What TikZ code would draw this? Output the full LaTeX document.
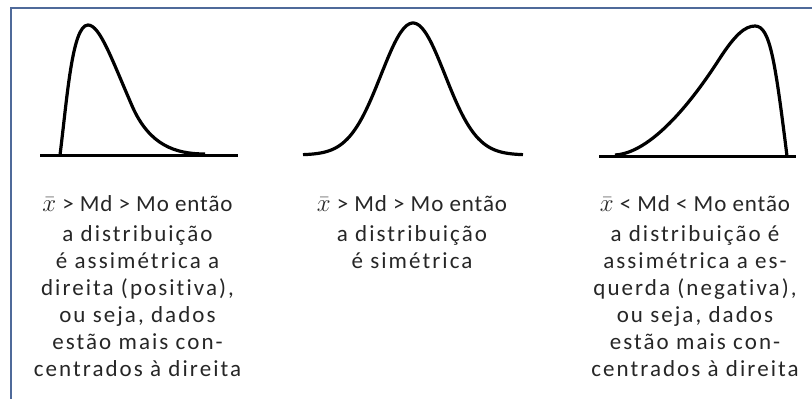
\documentclass[tikz,border=0pt]{standalone}
\usepackage{fontspec}
\setmainfont{Carlito}[Ligatures=NoCommon]
\definecolor{framecol}{HTML}{4F6A9A}
\definecolor{textcol}{HTML}{262626}
\newcommand{\firstline}[1]{{\addfontfeatures{LetterSpace=4}#1}\\[3pt]}
\newcommand{\xbar}{{\fontsize{26}{27}\selectfont$\bar{x}$}}
\tikzset{
  curve/.style={line width=3.2pt, line join=round},
  axisline/.style={line width=3pt},
  desc/.style={align=center, inner sep=0pt, anchor=north, text=textcol,
    font=\fontsize{23}{27}\selectfont\addfontfeatures{LetterSpace=9}},
}
\begin{document}
\begin{tikzpicture}[x=1pt, y=-1pt]
  \useasboundingbox (0,0) rectangle (812,399);
  % 테두리
  \draw[framecol, line width=2pt] (10.5,399) -- (10.5,8) -- (812,8);
  % 왼쪽: 오른쪽으로 치우친 곡선
  \draw[axisline] (40,155) -- (238,155);
  \draw[curve] (60,155) .. controls (67,100) and (72,25) .. (88,25)
    .. controls (100,25) and (112,60) .. (133,108)
    .. controls (150,145) and (175,154) .. (205,154);
  % 가운데: 대칭 곡선
  \draw[curve, domain=-110:110, samples=90, smooth]
    plot ({413+\x}, {155-132*exp(-0.5*(\x/32)^2)});
  % 오른쪽: 왼쪽으로 치우친 곡선
  \draw[axisline] (599,156) -- (796,156);
  \draw[curve] (615,155) .. controls (650,153) and (690,105) .. (720,58)
    .. controls (735,35) and (745,26) .. (755,26)
    .. controls (770,26) and (775,60) .. (787,156);
  % 설명
  \node[desc] (lefttxt) at (137.5,195) {\firstline{\xbar{} > Md > Mo então}a distribuição\\é assimétrica a\\direita (positiva),\\ou seja, dados\\estão mais con-\\centrados à direita};
  \node[desc] (midtxt) at (412,195) {\firstline{\xbar{} > Md > Mo então}a distribuição\\é simétrica};
  \node[desc] (righttxt) at (695,195) {\firstline{\xbar{} < Md < Mo então}a distribuição é\\assimétrica a es-\\querda (negativa),\\ou seja, dados\\estão mais con-\\centrados à direita};
\end{tikzpicture}
\end{document}
